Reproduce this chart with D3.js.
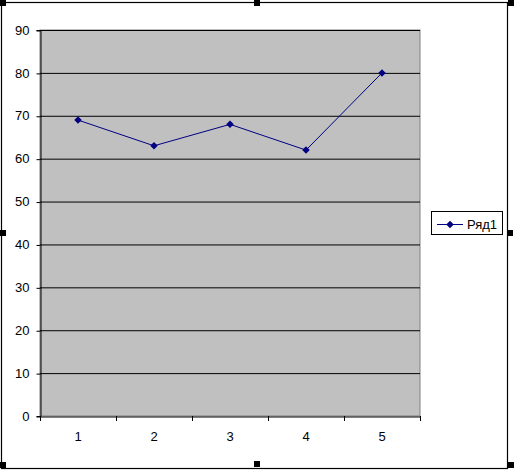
<!DOCTYPE html>
<html><head><meta charset="utf-8">
<script src="https://cdn.jsdelivr.net/npm/d3@7"></script>
<style>body{margin:0;background:#fff}svg{display:block}text{font-family:"Liberation Sans",Arial,sans-serif}</style>
</head><body>
<script>
const categories = ["1","2","3","4","5"];
const values = [69, 63, 68, 62, 80];
const yTicks = [0,10,20,30,40,50,60,70,80,90];
const seriesName = "Ряд1";

const W = 514, H = 472;
const svg = d3.select("body").append("svg").attr("width", W).attr("height", H);

// outer chart frame
svg.append("rect").attr("x", 1.5).attr("y", 2.5).attr("width", 506).attr("height", 466)
  .attr("fill", "#fff").attr("stroke", "#000").attr("stroke-width", 1.2);

const pL = 40, pR = 420, pT = 30, pB = 416;
const x = d3.scaleBand().domain(categories).range([pL, pR]);
const y = d3.scaleLinear().domain([0, 90]).range([pB, pT]);

svg.append("rect").attr("x", pL).attr("y", pT).attr("width", pR-pL).attr("height", pB-pT)
  .attr("fill", "#c0c0c0").attr("stroke", "#808080").attr("stroke-width", 1);

// gridlines
svg.append("g").selectAll("line").data(yTicks.filter(d => d > 0)).join("line")
  .attr("x1", pL).attr("x2", pR).attr("y1", d => y(d)+0.5).attr("y2", d => y(d)+0.5)
  .attr("stroke", "#000").attr("stroke-width", 1);

// y axis
const ya = svg.append("g").attr("transform", `translate(${pL+0.5},0)`)
  .call(d3.axisLeft(y).tickValues(yTicks).tickSize(4).tickPadding(7));
ya.select(".domain").attr("stroke", "#000");
ya.selectAll("text").attr("font-size", 13).attr("fill", "#000");
ya.selectAll(".tick line").attr("transform", "translate(0,0.5)");

// x axis
const xa = svg.append("g").attr("transform", `translate(0,${pB+0.5})`)
  .call(d3.axisBottom(x).tickSize(0).tickPadding(15));
xa.select(".domain").attr("stroke", "#000");
xa.selectAll("text").attr("font-size", 13).attr("fill", "#000");
// tick marks at category boundaries
const bounds = categories.map(c => x(c)).concat([pR]);
svg.append("g").selectAll("line").data(bounds).join("line")
  .attr("x1", d => d+0.5).attr("x2", d => d+0.5).attr("y1", pB).attr("y2", pB+5)
  .attr("stroke", "#000");

// line
const cx = (d,i) => x(categories[i]) + x.bandwidth()/2;
svg.append("path").datum(values)
  .attr("d", d3.line().x(cx).y(d => y(d)))
  .attr("fill", "none").attr("stroke", "#000080").attr("stroke-width", 1);
const diamond = d3.symbol().type(d3.symbolDiamond2).size(36);
svg.append("g").selectAll("path").data(values).join("path")
  .attr("d", diamond).attr("transform", (d,i) => `translate(${cx(d,i)},${y(d)})`)
  .attr("fill", "#000080");

// legend
const lg = svg.append("g");
lg.append("rect").attr("x", 431.5).attr("y", 211.5).attr("width", 71).attr("height", 23)
  .attr("fill", "#fff").attr("stroke", "#000");
lg.append("line").attr("x1", 437).attr("x2", 463).attr("y1", 224.5).attr("y2", 224.5).attr("stroke", "#000080");
lg.append("path").attr("d", diamond).attr("transform", "translate(450,224.5)").attr("fill", "#000080");
lg.append("text").attr("x", 467).attr("y", 229).attr("font-size", 13).text(seriesName);

// selection handles
const handles = [[0,0],[254,0],[508,0],[0,230],[507,230],[0,462],[254,461],[508,462]];
svg.append("g").selectAll("rect").data(handles).join("rect")
  .attr("x", d => d[0]).attr("y", d => d[1]).attr("width", 6).attr("height", 6).attr("fill", "#000");
</script>
</body></html>
